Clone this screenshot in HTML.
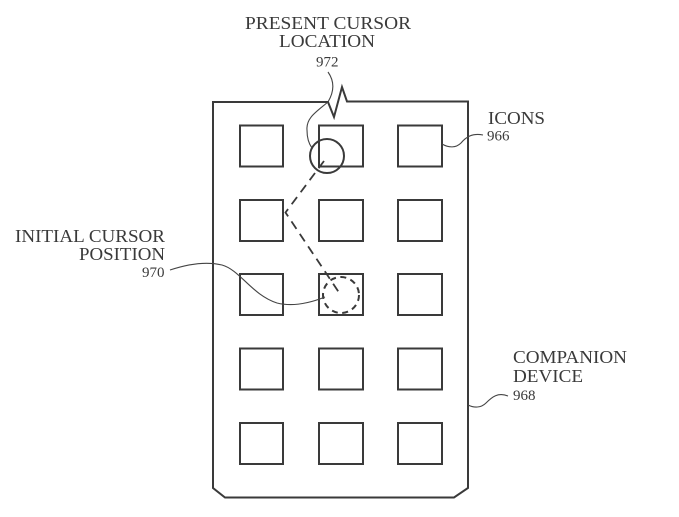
<!DOCTYPE html>
<html><head><meta charset="utf-8"><style>
html,body{margin:0;padding:0;background:#fff}
svg{display:block}
text{font-family:"Liberation Serif",serif;fill:#3a3a3a}
.l{font-size:17.5px}
.n{font-size:15px}
</style></head><body>
<svg width="679" height="517" viewBox="0 0 679 517" xmlns="http://www.w3.org/2000/svg">
<path d="M328 102H213V488L225 497.5H454L468 488V101.5H347L342 87L334 117L328 102Z" fill="#fff" stroke="#3a3a3a" stroke-width="2"/>
<g fill="none" stroke="#3a3a3a" stroke-width="2">
<rect x="240" y="125.500" width="43" height="41"/><rect x="319" y="125.500" width="44" height="41"/><rect x="398" y="125.500" width="44" height="41"/>
<rect x="240" y="200" width="43" height="41"/><rect x="319" y="200" width="44" height="41"/><rect x="398" y="200" width="44" height="41"/>
<rect x="240" y="274" width="43" height="41"/><rect x="319" y="274" width="44" height="41"/><rect x="398" y="274" width="44" height="41"/>
<rect x="240" y="348.500" width="43" height="41"/><rect x="319" y="348.500" width="44" height="41"/><rect x="398" y="348.500" width="44" height="41"/>
<rect x="240" y="423" width="43" height="41"/><rect x="319" y="423" width="44" height="41"/><rect x="398" y="423" width="44" height="41"/>
<circle cx="327" cy="156" r="17"/>
<circle cx="341" cy="295" r="18" stroke-dasharray="6 4.500"/>
<path d="M324 161L285.500 212.500L340 294" stroke-dasharray="9 6" stroke-width="1.800"/>
</g>
<g fill="none" stroke="#444" stroke-width="1.100">
<path d="M328 72C335 82 334 92 328 102C316 112 306 118 307 130C307 138 309 144 312 148"/>
<path d="M442 144C449 148 456 148 461 143C466 137 472 133 483 135"/>
<path d="M170 270C185 265 205 261 222 265C240 270 252 295 277 303C293 307 310 303 325 297"/>
<path d="M468 405C474 408 481 408 486 403C492 397 498 392 508 396"/>
</g>
<text class="l" x="245" y="29" textLength="166" lengthAdjust="spacingAndGlyphs">PRESENT CURSOR</text>
<text class="l" x="279" y="47" textLength="96" lengthAdjust="spacingAndGlyphs">LOCATION</text>
<text class="n" x="316" y="66.500">972</text>
<text class="l" x="488" y="124" textLength="57" lengthAdjust="spacingAndGlyphs">ICONS</text>
<text class="n" x="487" y="140.500">966</text>
<text class="l" x="15" y="242" textLength="150" lengthAdjust="spacingAndGlyphs">INITIAL CURSOR</text>
<text class="l" x="79" y="260" textLength="86" lengthAdjust="spacingAndGlyphs">POSITION</text>
<text class="n" x="142" y="277">970</text>
<text class="l" x="513" y="363" textLength="114" lengthAdjust="spacingAndGlyphs">COMPANION</text>
<text class="l" x="513" y="382" textLength="70" lengthAdjust="spacingAndGlyphs">DEVICE</text>
<text class="n" x="513" y="400">968</text>
</svg>
</body></html>
